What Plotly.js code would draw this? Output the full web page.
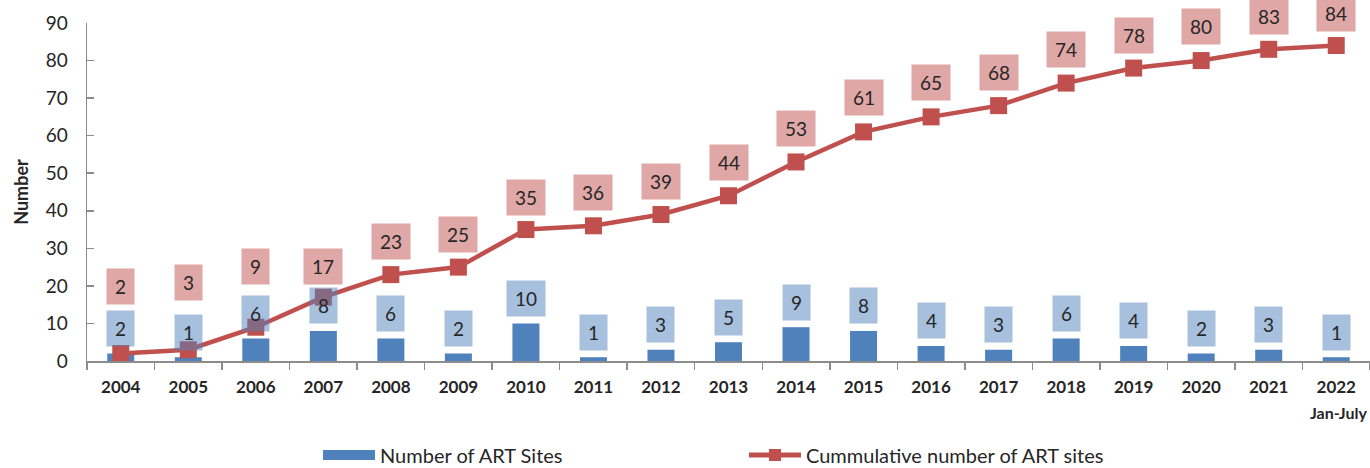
<!DOCTYPE html>
<html>
<head>
<meta charset="utf-8">
<script src="https://cdn.plot.ly/plotly-3.0.1.min.js"></script>
<style>html,body{margin:0;padding:0;background:#fff;}#chart{width:1370px;height:468px;}</style>
</head>
<body>
<div id="chart"></div>
<script>
// ---- data ----
const years = ["2004","2005","2006","2007","2008","2009","2010","2011","2012","2013","2014","2015","2016","2017","2018","2019","2020","2021","2022"];
const sitesPerYear = [2,1,6,8,6,2,10,1,3,5,9,8,4,3,6,4,2,3,1];
const cumulativeSites = [2,3,9,17,23,25,35,36,39,44,53,61,65,68,74,78,80,83,84];
const seriesNames = ["Number of ART Sites", "Cummulative number of ART sites"];
const lastYearNote = "Jan-July";
const yAxisTitle = "Number";
// label offsets above the line points (px), as placed in the original chart
const cumLabelShift = [67,67,61,31,33,33,32,33,33,33,33,34,34,33,34,33,34,33,32];

const FONT = "Lato, 'Open Sans', sans-serif";
const blue = "#4F81BD", red = "#C0504D";

const traces = [
  {type:"bar", x:years, y:sitesPerYear, name:seriesNames[0], marker:{color:blue}, hoverinfo:"skip", showlegend:false},
  // legend-only entry for the bars (wide flat swatch, like the original)
  {type:"scatter", mode:"lines", x:[null], y:[null], name:seriesNames[0], legend:"legend",
   line:{color:blue, width:12}, hoverinfo:"skip"},
  {type:"scatter", mode:"lines+markers", x:years, y:cumulativeSites, name:seriesNames[1], legend:"legend2",
   line:{color:red, width:4.5}, marker:{symbol:"square", size:17, color:red}, hoverinfo:"skip"}
];

const ann = [];
function boxW(v){ return String(v).length === 1 ? 27 : 38; }
years.forEach((yr,i)=>{
  ann.push({x:i, y:sitesPerYear[i], xref:"x", yref:"y", text:String(sitesPerYear[i]), showarrow:false,
    yshift:25, width:boxW(sitesPerYear[i]), height:35, borderpad:0,
    bgcolor:"rgba(79,129,189,0.5)", font:{family:FONT, size:19, color:"#262626"}});
  ann.push({x:i, y:cumulativeSites[i], xref:"x", yref:"y", text:String(cumulativeSites[i]), showarrow:false,
    yshift:cumLabelShift[i], width:boxW(cumulativeSites[i]), height:35, borderpad:0,
    bgcolor:"rgba(192,80,77,0.5)", font:{family:FONT, size:19, color:"#262626"}});
});
ann.push({x:years.length-1, y:0, xref:"x", yref:"paper", yanchor:"middle", yshift:-51, xshift:3, text:"<b>"+lastYearNote+"</b>",
  showarrow:false, font:{family:FONT, size:16, color:"#262626"}});

const legendCommon = {orientation:"h", xref:"container", yref:"container", y:1-455/468, yanchor:"middle", xanchor:"left",
  font:{family:FONT, size:20, color:"#262626"}, itemwidth:52, bgcolor:"rgba(0,0,0,0)", borderwidth:0};

const layout = {
  width:1370, height:468,
  margin:{l:87, r:0, t:23, b:107, autoexpand:false},
  paper_bgcolor:"#fff", plot_bgcolor:"#fff",
  font:{family:FONT, color:"#262626"},
  bargap:0.6,
  showlegend:true,
  legend:Object.assign({}, legendCommon, {x:318/1370}),
  legend2:Object.assign({}, legendCommon, {x:744/1370, itemsizing:"constant"}),
  xaxis:{type:"category", range:[-0.5, years.length-0.5], autorange:false, automargin:false, showgrid:false, zeroline:false, showline:true, linecolor:"#8c8c8c", linewidth:1.5,
         ticks:"outside", tickson:"boundaries", ticklen:7, tickcolor:"#8c8c8c", tickwidth:1.5,
         tickfont:{family:FONT, size:17, color:"#262626", weight:"bold"}, ticklabelstandoff:10, tickangle:0, fixedrange:true},
  yaxis:{range:[0,90], autorange:false, automargin:false, dtick:10, showgrid:false, zeroline:false, showline:true, linecolor:"#8c8c8c", linewidth:1.5,
         ticks:"inside", ticklen:7, tickcolor:"#8c8c8c", tickwidth:1.5, ticklabelstandoff:14,
         tickfont:{family:FONT, size:19, color:"#262626"},
         title:{text:"<b>"+yAxisTitle+"</b>", font:{family:FONT, size:18, color:"#262626"}, standoff:12}, fixedrange:true},
  annotations:ann
};

Plotly.newPlot("chart", traces, layout, {displayModeBar:false, staticPlot:true});
</script>
</body>
</html>
